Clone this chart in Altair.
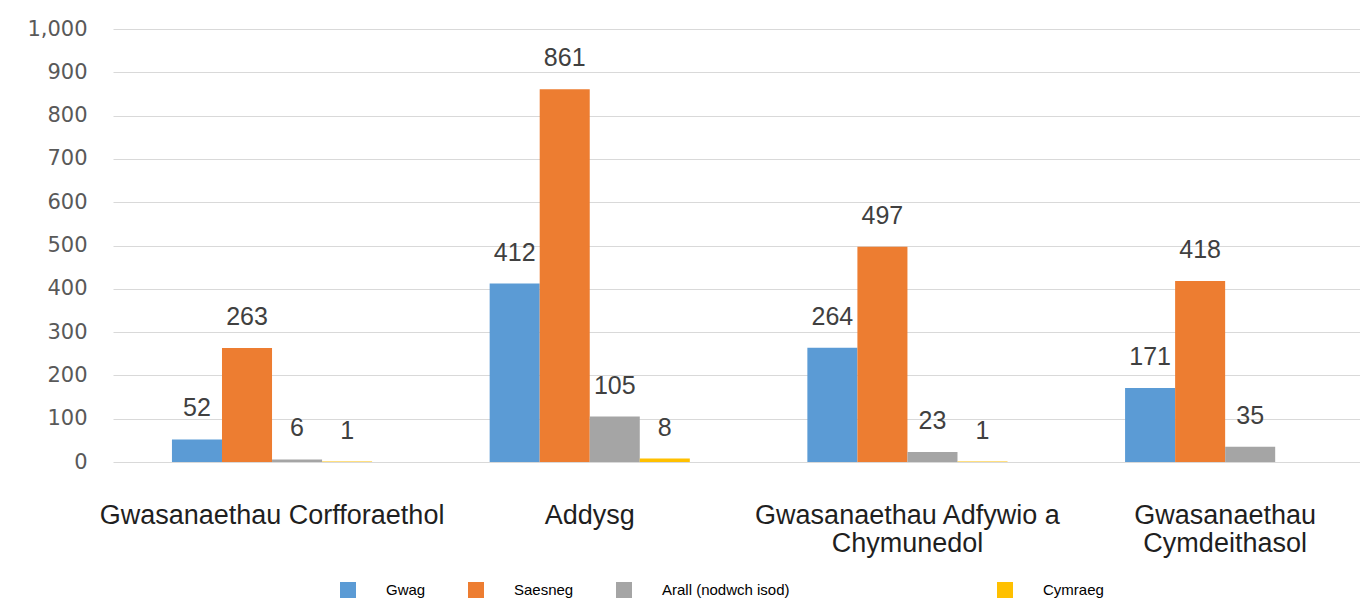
import altair as alt
import pandas as pd

categories = [
    "Gwasanaethau Corfforaethol",
    "Addysg",
    "Gwasanaethau Adfywio a Chymunedol",
    "Gwasanaethau Cymdeithasol",
]
series = ["Gwag", "Saesneg", "Arall (nodwch isod)", "Cymraeg"]
gwag = [52, 412, 264, 171]
saesneg = [263, 861, 497, 418]
arall = [6, 105, 23, 35]
cymraeg = [1, 8, 1, None]
colors = ["#5B9BD5", "#ED7D31", "#A5A5A5", "#FFC000"]

rows = []
for s, vals in zip(series, [gwag, saesneg, arall, cymraeg]):
    for c, v in zip(categories, vals):
        if v is not None:
            rows.append({"Category": c, "Series": s, "Value": v})
df = pd.DataFrame(rows)
df_main = df[df["Series"] != series[3]]
df_last = df[df["Series"] == series[3]]

label_expr = (
    "datum.value == 'Gwasanaethau Adfywio a Chymunedol' ? ['Gwasanaethau Adfywio a', 'Chymunedol'] : "
    "datum.value == 'Gwasanaethau Cymdeithasol' ? ['Gwasanaethau', 'Cymdeithasol'] : datum.label"
)

x_enc = alt.X(
    "Category:N",
    sort=categories,
    title=None,
    scale=alt.Scale(paddingInner=0.37, paddingOuter=0.1475, align=0.629),
    axis=alt.Axis(
        labelAngle=0,
        labelFont="Liberation Sans",
        labelFontSize=27,
        labelColor="#1f1f1f",
        labelPadding=40,
        labelLineHeight=28,
        labelExpr=label_expr,
        labelLimit=500,
        domain=False,
        ticks=False,
        grid=False,
    ),
)
xoff = alt.XOffset(
    "Series:N", sort=series,
    scale=alt.Scale(domain=series, paddingInner=0, paddingOuter=0),
)
y_enc = alt.Y(
    "Value:Q",
    title=None,
    scale=alt.Scale(domain=[0, 1000], nice=False),
    axis=alt.Axis(
        values=list(range(0, 1001, 100)),
        format=",d",
        labelFont="DejaVu Sans",
        labelFontSize=21,
        labelColor="#595959",
        labelPadding=26,
        domain=False,
        ticks=False,
        gridColor="#d9d9d9",
        gridWidth=1,
    ),
)

legend_style = dict(
    title=None,
    orient="none",
    direction="horizontal",
    symbolType="square",
    symbolSize=256,
    symbolStrokeWidth=0,
    labelFont="Liberation Sans",
    labelFontSize=15,
    labelColor="#000000",
    labelOffset=30,
    columnPadding=42,
)

bars_main = alt.Chart(df_main).mark_bar().encode(
    x=x_enc,
    xOffset=xoff,
    y=y_enc,
    color=alt.Color(
        "Series:N",
        sort=series[:3],
        scale=alt.Scale(domain=series[:3], range=colors[:3]),
        legend=alt.Legend(legendX=227, legendY=553, **legend_style),
    ),
)

bars_last = alt.Chart(df_last).mark_bar().encode(
    x=alt.X("Category:N", sort=categories),
    xOffset=xoff,
    y="Value:Q",
    color=alt.Color(
        "Series:N",
        scale=alt.Scale(domain=series[3:], range=colors[3:]),
        legend=alt.Legend(legendX=884, legendY=553, **legend_style),
    ),
)

text = alt.Chart(df).mark_text(
    font="Liberation Sans", fontSize=25, color="#404040", baseline="middle", dy=-31
).encode(
    x=alt.X("Category:N", sort=categories),
    xOffset=xoff,
    y="Value:Q",
    text="Value:Q",
)

chart = (
    alt.layer(bars_main, bars_last, text)
    .resolve_scale(color="independent")
    .resolve_legend(color="independent")
    .properties(
        width=1247,
        height=433,
        autosize="none",
        padding={"left": 113, "top": 29, "right": 0, "bottom": 139},
        background="white",
    )
    .configure_view(stroke=None)
)

chart.save("out.html", embed_options={"renderer": "svg", "actions": False})
